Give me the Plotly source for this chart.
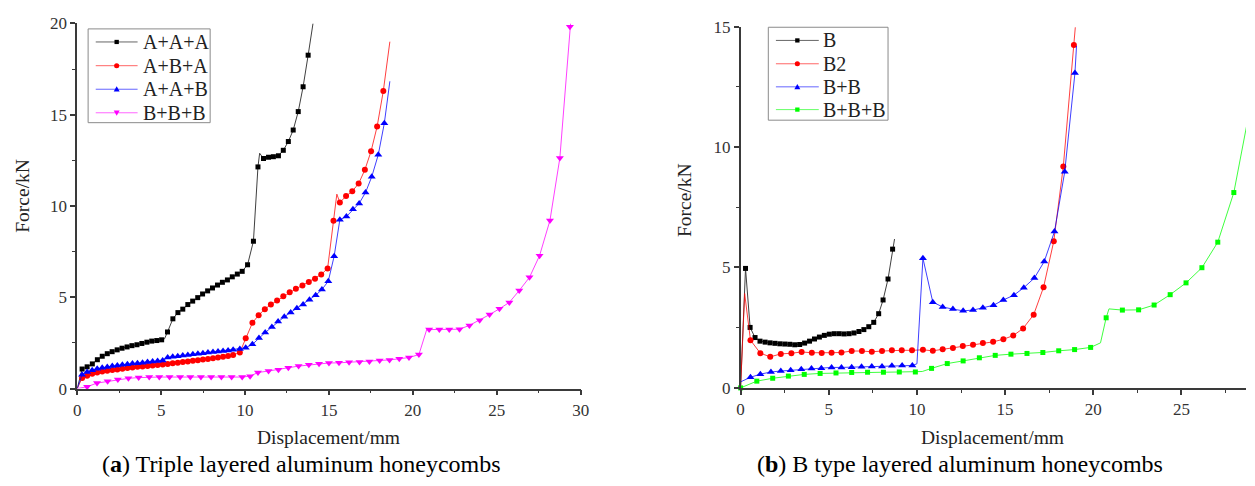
import plotly.graph_objects as go

# ---------------- Panel (a): Triple layered aluminum honeycombs ----------------
AAA_x = [0.29, 0.59, 0.9, 1.2, 1.49, 1.79, 2.08, 2.38, 2.67, 2.97, 3.26, 3.56, 3.85, 4.15, 4.44, 4.74,
         5.03, 5.38, 5.7, 6.0, 6.29, 6.59, 6.88, 7.18, 7.47, 7.77, 8.06, 8.36, 8.65, 8.95, 9.24, 9.54,
         9.83, 10.15, 10.5, 10.77, 11.1, 11.4, 11.69, 11.99, 12.28, 12.58, 12.87, 13.17, 13.46, 13.76]
AAA_y = [1.07, 1.19, 1.35, 1.58, 1.77, 1.91, 2.02, 2.12, 2.21, 2.28, 2.35, 2.40, 2.47, 2.54, 2.60, 2.63,
         2.67, 3.1, 3.82, 4.16, 4.35, 4.6, 4.79, 4.98, 5.18, 5.35, 5.51, 5.67, 5.82, 5.95, 6.12, 6.27,
         6.42, 6.78, 8.07, 12.14, 12.6, 12.67, 12.7, 12.75, 13.05, 13.53, 14.16, 15.17, 16.53, 18.26]
AAA_line_x = [0.0, 5.2, 10.87, 14.05]
AAA_line_y = [0.0, 2.72, 12.89, 20.0]

ABA_x = [0.29, 0.59, 0.89, 1.19, 1.49, 1.79, 2.09, 2.39, 2.69, 2.99, 3.29, 3.59, 3.89, 4.19, 4.49, 4.79,
         5.09, 5.39, 5.69, 5.99, 6.29, 6.59, 6.89, 7.19, 7.49, 7.79, 8.09, 8.39, 8.69, 8.99, 9.29, 9.69,
         10.04, 10.44, 10.81, 11.18, 11.54, 11.91, 12.28, 12.66, 13.03, 13.42, 13.8, 14.17, 14.54, 14.92,
         15.27, 15.65, 16.02, 16.39, 16.77, 17.14, 17.51, 17.87, 18.24]
ABA_y = [0.58, 0.70, 0.81, 0.88, 0.93, 0.98, 1.02, 1.05, 1.09, 1.12, 1.16, 1.19, 1.21, 1.23, 1.26, 1.29,
         1.32, 1.35, 1.38, 1.41, 1.45, 1.48, 1.52, 1.55, 1.59, 1.62, 1.66, 1.70, 1.74, 1.78, 1.84, 1.98,
         2.75, 3.6, 4.02, 4.35, 4.6, 4.82, 5.05, 5.28, 5.46, 5.65, 5.84, 6.02, 6.25, 6.58,
         9.19, 10.19, 10.54, 10.81, 11.23, 11.98, 13.0, 14.35, 16.3]
ABA_line_x = [0.0, 15.47, 18.63]
ABA_line_y = [0.0, 10.65, 19.0]

AAB_x = [0.29, 0.59, 0.89, 1.19, 1.49, 1.79, 2.09, 2.39, 2.69, 2.99, 3.29, 3.59, 3.89, 4.19, 4.49, 4.79,
         5.09, 5.39, 5.69, 5.99, 6.29, 6.59, 6.89, 7.19, 7.49, 7.79, 8.09, 8.39, 8.69, 8.99, 9.29, 9.69,
         10.04, 10.44, 10.83, 11.2, 11.6, 11.97, 12.34, 12.72, 13.09, 13.46, 13.84, 14.21, 14.58, 14.96,
         15.31, 15.65, 16.04, 16.43, 16.8, 17.18, 17.55, 17.94, 18.3]
AAB_y = [0.75, 0.91, 1.0, 1.09, 1.14, 1.18, 1.23, 1.26, 1.3, 1.33, 1.37, 1.39, 1.42, 1.46, 1.48, 1.51,
         1.53, 1.7, 1.74, 1.77, 1.81, 1.84, 1.88, 1.91, 1.94, 1.97, 2.0, 2.03, 2.06, 2.09, 2.13, 2.17,
         2.23, 2.42, 2.77, 3.07, 3.37, 3.67, 3.93, 4.17, 4.4, 4.61, 4.86, 5.11, 5.42, 5.88,
         7.25, 9.25, 9.42, 9.82, 10.14, 10.74, 11.6, 12.81, 14.53]
AAB_line_x = [0.0, 18.63]
AAB_line_y = [0.0, 16.83]

BBB_x = [0.59, 1.18, 1.81, 2.42, 3.05, 3.66, 4.29, 4.89, 5.5, 6.13, 6.74, 7.37, 7.98, 8.59, 9.2, 9.83,
         10.3, 10.77, 11.4, 11.99, 12.58, 13.19, 13.8, 14.41, 15.0, 15.6, 16.2, 16.82, 17.41, 18.02,
         18.61, 19.19, 19.77, 20.36, 20.97, 21.58, 22.17, 22.78, 23.37, 23.98, 24.57, 25.16, 25.75,
         26.34, 26.95, 27.55, 28.17, 28.76, 29.36]
BBB_y = [0.1, 0.3, 0.4, 0.49, 0.56, 0.6, 0.63, 0.63, 0.63, 0.63, 0.63, 0.63, 0.63, 0.63, 0.63, 0.63,
         0.68, 0.88, 0.96, 1.03, 1.14, 1.23, 1.3, 1.36, 1.4, 1.41, 1.44, 1.46, 1.48, 1.53,
         1.57, 1.63, 1.7, 1.86, 3.23, 3.23, 3.23, 3.25, 3.46, 3.74, 4.05, 4.37, 4.72,
         5.37, 6.09, 7.28, 9.21, 12.63, 19.82]
BBB_line_x = [0.0, 20.85, 29.4]
BBB_line_y = [0.0, 3.3, 20.0]

# ---------------- Panel (b): B type layered aluminum honeycombs ----------------
B_x = [0.28, 0.54, 0.82, 1.1, 1.39, 1.67, 1.95, 2.23, 2.51, 2.79, 3.07, 3.35, 3.63, 3.91, 4.19, 4.47,
       4.75, 5.03, 5.31, 5.59, 5.87, 6.15, 6.43, 6.71, 6.99, 7.27, 7.55, 7.83, 8.08, 8.36, 8.62]
B_y = [4.96, 2.51, 2.09, 1.94, 1.9, 1.87, 1.85, 1.83, 1.82, 1.81, 1.79, 1.8, 1.86, 1.94, 2.03, 2.11,
       2.18, 2.23, 2.25, 2.25, 2.24, 2.25, 2.28, 2.34, 2.42, 2.54, 2.72, 3.08, 3.65, 4.52, 5.76]
B_line_x = [0.0, 8.73]
B_line_y = [0.0, 6.18]

B2_x = [0.56, 1.12, 1.68, 2.28, 2.88, 3.46, 4.04, 4.6, 5.16, 5.72, 6.3, 6.88, 7.44, 8.02, 8.58, 9.14,
        9.72, 10.34, 10.9, 11.46, 12.04, 12.6, 13.18, 13.74, 14.32, 14.9, 15.46, 16.02, 16.62, 17.18,
        17.76, 18.3, 18.9]
B2_y = [1.98, 1.44, 1.29, 1.41, 1.44, 1.49, 1.46, 1.45, 1.46, 1.47, 1.53, 1.53, 1.5, 1.53, 1.56, 1.56,
        1.56, 1.58, 1.54, 1.6, 1.66, 1.74, 1.79, 1.86, 1.91, 2.02, 2.17, 2.47, 3.04, 4.18,
        6.09, 9.19, 14.24]
B2_line_x = [0.0, 0.23, 18.98]
B2_line_y = [0.0, 3.92, 14.97]

BB_x = [0.56, 1.12, 1.72, 2.28, 2.84, 3.44, 4.02, 4.58, 5.16, 5.72, 6.3, 6.86, 7.44, 8.02, 8.58, 9.16,
        9.74, 10.34, 10.9, 11.46, 12.04, 12.62, 13.18, 13.74, 14.34, 14.9, 15.5, 16.06, 16.66, 17.22,
        17.8, 18.38, 18.96]
BB_y = [0.44, 0.57, 0.66, 0.7, 0.73, 0.77, 0.8, 0.82, 0.85, 0.85, 0.86, 0.88, 0.89, 0.89, 0.92, 0.93,
        0.93, 5.38, 3.56, 3.36, 3.27, 3.2, 3.23, 3.33, 3.43, 3.65, 3.85, 4.16, 4.56, 5.25,
        6.49, 8.97, 13.07]
BB_line_x = [0.0, 10.0, 19.05]
BB_line_y = [0.25, 1.0, 14.2]

BBB2_x = [0.0, 0.92, 1.82, 2.71, 3.61, 4.51, 5.41, 6.3, 7.2, 8.1, 9.0, 9.91, 10.83, 11.72, 12.62, 13.54,
          14.44, 15.33, 16.24, 17.14, 18.04, 18.94, 19.85, 20.73, 21.65, 22.57, 23.45, 24.36, 25.26,
          26.16, 27.06, 27.97]
BBB2_y = [0.0, 0.28, 0.4, 0.49, 0.56, 0.6, 0.62, 0.64, 0.65, 0.65, 0.66, 0.66, 0.81, 1.01, 1.12, 1.25,
          1.35, 1.4, 1.43, 1.47, 1.54, 1.59, 1.68, 2.91, 3.23, 3.24, 3.44, 3.87, 4.36,
          4.99, 6.05, 8.11]
BBB2_line_x = [10.3, 20.41, 20.89, 28.7]
BBB2_line_y = [0.68, 1.87, 3.28, 10.9]

LEGEND_A = ["A+A+A", "A+B+A", "A+A+B", "B+B+B"]
LEGEND_B = ["B", "B2", "B+B", "B+B+B"]
TICKS = [0, 5, 10, 15, 20, 25, 30]

SERIF = "Liberation Serif, serif"
W, H = 1255, 486

fig = go.Figure()


def add_series(mx, my, lx, ly, name, color, symbol, size, xa, ya):
    pts = sorted(zip(list(mx) + list(lx), list(my) + list(ly)))
    fig.add_trace(go.Scatter(x=[p[0] for p in pts], y=[p[1] for p in pts], mode="lines",
                             line=dict(color=color, width=1), opacity=0.75, xaxis=xa, yaxis=ya,
                             showlegend=False, hoverinfo="skip", name=name))
    fig.add_trace(go.Scatter(x=mx, y=my, mode="markers", name=name,
                             marker=dict(color=color, symbol=symbol, size=size, line=dict(width=0)),
                             xaxis=xa, yaxis=ya, showlegend=False, cliponaxis=False))


STYLES = [("#000000", "square", 5), ("#ff0000", "circle", 6), ("#0000ff", "triangle-up", 7),
          ("#ff00ff", "triangle-down", 7)]
STYLES_B = [("#000000", "square", 5), ("#ff0000", "circle", 6), ("#0000ff", "triangle-up", 7),
            ("#00ff00", "square", 5)]

panel_a = [(AAA_x, AAA_y, AAA_line_x, AAA_line_y), (ABA_x, ABA_y, ABA_line_x, ABA_line_y),
           (AAB_x, AAB_y, AAB_line_x, AAB_line_y), (BBB_x, BBB_y, BBB_line_x, BBB_line_y)]
panel_b = [(B_x, B_y, B_line_x, B_line_y), (B2_x, B2_y, B2_line_x, B2_line_y),
           (BB_x, BB_y, BB_line_x, BB_line_y), (BBB2_x, BBB2_y, BBB2_line_x, BBB2_line_y)]

for (d, name, st) in zip(panel_a, LEGEND_A, STYLES):
    add_series(*d, name, *st, "x", "y")
for (d, name, st) in zip(panel_b, LEGEND_B, STYLES_B):
    add_series(*d, name, *st, "x2", "y2")

axis_style = dict(showline=True, linecolor="#3a3a3a", linewidth=1.5, ticks="outside", ticklen=5,
                  tickwidth=1.5, tickcolor="#3a3a3a", showgrid=False, zeroline=False,
                  tickvals=TICKS, tickfont=dict(family=SERIF, size=17, color="#333333"),
                  minor=dict(ticks="outside", ticklen=3, tickwidth=1.2, tickcolor="#3a3a3a",
                             dtick=2.5, tick0=0, showgrid=False))

fig.update_layout(
    width=W, height=H, margin=dict(l=0, r=0, t=0, b=0),
    paper_bgcolor="white", plot_bgcolor="white", showlegend=False,
    xaxis=dict(domain=[74 / W, 582.7 / W], range=[0, 30], anchor="y", **axis_style),
    yaxis=dict(domain=[1 - 395 / H, 1 - 15 / H], range=[0, 20], anchor="x", **axis_style),
    xaxis2=dict(domain=[744.3 / W, 1.0], range=[0, 28.66], anchor="y2", **axis_style),
    yaxis2=dict(domain=[1 - 394.3 / H, 1 - 18.3 / H], range=[0, 15], anchor="x2", **axis_style),
)


# ---------- legend boxes drawn as shapes + text (paper coordinates from pixel layout) ----------
def px(x):
    return x / W


def py(y):
    return 1 - y / H


def legend_box(x0, y0, x1, y1, names, styles, rows, lx0, lx1, tx):
    fig.add_shape(type="rect", xref="paper", yref="paper", x0=px(x0), y0=py(y0), x1=px(x1), y1=py(y1),
                  line=dict(color="#8a8a8a", width=1), fillcolor="white", layer="above")
    for name, (color, symbol, size), ry in zip(names, styles, rows):
        fig.add_shape(type="line", xref="paper", yref="paper", x0=px(lx0), y0=py(ry), x1=px(lx1), y1=py(ry),
                      line=dict(color=color, width=1), opacity=0.6, layer="above")
        cx = (lx0 + lx1) / 2
        r = 2.2
        if symbol == "square":
            fig.add_shape(type="rect", xref="paper", yref="paper", x0=px(cx - r), y0=py(ry + r),
                          x1=px(cx + r), y1=py(ry - r), line=dict(width=0), fillcolor=color, layer="above")
        elif symbol == "circle":
            fig.add_shape(type="circle", xref="paper", yref="paper", x0=px(cx - 2.6), y0=py(ry + 2.6),
                          x1=px(cx + 2.6), y1=py(ry - 2.6), line=dict(width=0), fillcolor=color, layer="above")
        else:
            s = 3.0
            if symbol == "triangle-up":
                pts = [(cx - s, ry + s * 0.8), (cx + s, ry + s * 0.8), (cx, ry - s)]
            else:
                pts = [(cx - s, ry - s * 0.8), (cx + s, ry - s * 0.8), (cx, ry + s)]
            path = "M " + " L ".join(f"{px(a):.5f},{py(b):.5f}" for a, b in pts) + " Z"
            fig.add_shape(type="path", xref="paper", yref="paper", path=path, line=dict(width=0),
                          fillcolor=color, layer="above")
        fig.add_annotation(text=name, xref="paper", yref="paper", x=px(tx), y=py(ry), xanchor="left",
                           yanchor="middle", showarrow=False,
                           font=dict(family=SERIF, size=20, color="#222222"))


legend_box(85, 20.7, 208.3, 118.3, LEGEND_A, STYLES, [34.3, 59, 83.5, 108], 92.7, 135, 138)
legend_box(772.3, 19, 893.3, 115.7, LEGEND_B, STYLES_B, [32.7, 57, 81, 104.7], 780, 823.3, 826)

ann_font = dict(family=SERIF, size=19.5, color="#222222")
annotations = [
    dict(text="Force/kN", x=18.5 / W, y=1 - 194 / H, textangle=-90, font=ann_font),
    dict(text="Force/kN", x=687 / W, y=1 - 199 / H, textangle=-90, font=ann_font),
    dict(text="Displacement/mm", x=328 / W, y=1 - 446 / H, font=ann_font),
    dict(text="Displacement/mm", x=999 / W, y=1 - 446 / H, font=ann_font),
    dict(text="(<b>a</b>) Triple layered aluminum honeycombs", x=300.5 / W, y=1 - 474 / H,
         font=dict(family=SERIF, size=24, color="#000000")),
    dict(text="(<b>b</b>) B type layered aluminum honeycombs", x=966.5 / W, y=1 - 474 / H,
         font=dict(family=SERIF, size=24, color="#000000")),
]
for a in annotations:
    a.update(xref="paper", yref="paper", showarrow=False, xanchor="center", yanchor="middle")
    fig.add_annotation(**a)

fig.write_html("out.html")
